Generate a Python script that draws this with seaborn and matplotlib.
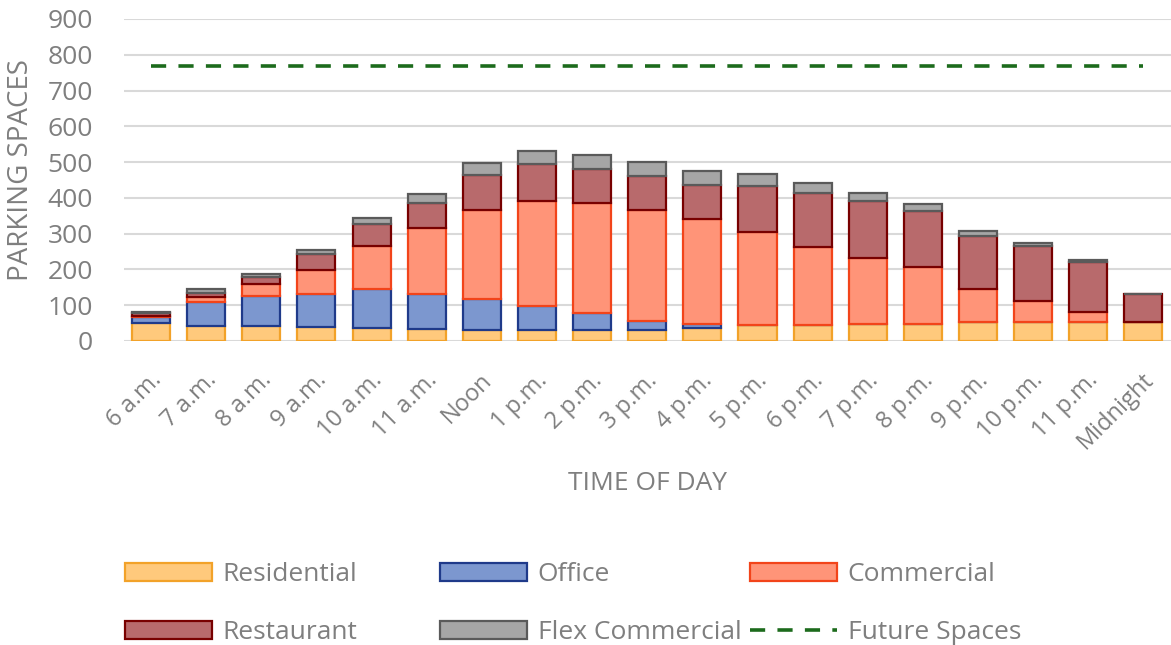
import numpy as np
import pandas as pd
import matplotlib
matplotlib.use("Agg")
import matplotlib.pyplot as plt
import matplotlib.transforms as mtransforms
import seaborn as sns

# Parking demand by hour
times = ['6 a.m.', '7 a.m.', '8 a.m.', '9 a.m.', '10 a.m.', '11 a.m.', 'Noon',
         '1 p.m.', '2 p.m.', '3 p.m.', '4 p.m.', '5 p.m.', '6 p.m.', '7 p.m.',
         '8 p.m.', '9 p.m.', '10 p.m.', '11 p.m.', 'Midnight']
residential = [50, 43, 43, 38, 35, 33, 32, 32, 32, 32, 35, 44, 45, 48, 48, 52, 52, 52, 52]
office = [18, 65, 82, 94, 109, 98, 84, 67, 47, 24, 12, 0, 0, 0, 0, 0, 0, 0, 0]
commercial = [3, 14, 35, 67, 122, 184, 250, 292, 307, 310, 294, 262, 217, 185, 158, 92, 59, 29, 0]
restaurant = [8, 12, 20, 45, 60, 71, 99, 104, 94, 95, 94, 126, 153, 158, 157, 150, 155, 141, 79]
flex_commercial = [2, 11, 8, 9, 18, 26, 32, 36, 41, 39, 40, 36, 28, 24, 19, 14, 7, 5, 0]
future_spaces = 770

series = ['Residential', 'Office', 'Commercial', 'Restaurant', 'Flex Commercial']
fills = ['#FFC97C', '#7C97CF', '#FF9478', '#B86A6C', '#A6A6A6']
edges = ['#F2A229', '#1F3A8A', '#F2441A', '#780000', '#5A5A5A']

df = pd.DataFrame({'time': times, 'Residential': residential, 'Office': office,
                   'Commercial': commercial, 'Restaurant': restaurant,
                   'Flex Commercial': flex_commercial})

sns.set_style('white')
plt.rcParams['font.family'] = ['Open Sans', 'DejaVu Sans']
text_gray = '#7F7F7F'

fig = plt.figure(figsize=(11.71, 6.45), dpi=100)
ax = fig.add_axes([123.5 / 1171, 304 / 645, 1047.5 / 1171, 322 / 645])

bottom = np.zeros(len(df))
for name, fc, ec in zip(series, fills, edges):
    sns.barplot(data=df, x='time', y=name, bottom=bottom, color=fc, edgecolor=ec,
                linewidth=1.6, width=0.69, saturation=1, ax=ax, label=name, zorder=3)
    bottom = bottom + df[name].values

ax.plot([0, len(times) - 1], [future_spaces, future_spaces], color='#1C6B1C',
        linewidth=2.6, linestyle=(0, (4.2, 3.4)), label='Future Spaces', zorder=4)

ax.set_xlim(-0.5, len(times) - 0.5)
ax.set_ylim(0, 900)
ax.set_yticks(range(0, 901, 100))
ax.grid(axis='y', color='#D9D9D9', linewidth=1.5, zorder=0)
ax.set_axisbelow(True)
for s in ax.spines.values():
    s.set_visible(False)
ax.tick_params(axis='y', length=0, labelsize=19, labelcolor=text_gray, pad=22)
ax.tick_params(axis='x', length=0, labelsize=17, labelcolor=text_gray, pad=0)

ax.set_xticks(range(len(times)))
ax.set_xticklabels(times, rotation=45, ha='right', va='baseline', rotation_mode='anchor')
offset = mtransforms.ScaledTranslation(11 / 100, -40 / 100, fig.dpi_scale_trans)
for lbl in ax.get_xticklabels():
    lbl.set_transform(lbl.get_transform() + offset)

ax.set_xlabel('TIME OF DAY', fontsize=19, color=text_gray)
ax.xaxis.set_label_coords(0.5, (341 - 484) / 322)
ax.xaxis.label.set_va('center')
ax.set_ylabel('PARKING SPACES', fontsize=20, color=text_gray)
ax.yaxis.set_label_coords(-(123.5 - 21) / 1047.5, (341 - 170) / 322)
ax.yaxis.label.set_va('center')

# legend laid out like the original: three columns of two rows
handles, labels = ax.get_legend_handles_labels()
if ax.get_legend() is not None:
    ax.get_legend().remove()
hmap = dict(zip(labels, handles))
columns = [['Residential', 'Restaurant'], ['Office', 'Flex Commercial'],
           ['Commercial', 'Future Spaces']]
col_x = [125, 440, 750]
for cols, x in zip(columns, col_x):
    fig.legend([hmap[c] for c in cols], cols, loc='upper left',
               bbox_to_anchor=(x / 1171, (645 - 562) / 645), frameon=False,
               fontsize=19, labelcolor=text_gray, handlelength=3.3,
               handleheight=0.68, handletextpad=0.4, labelspacing=1.25,
               borderpad=0, borderaxespad=0)

fig.savefig('out.png', dpi=100)
